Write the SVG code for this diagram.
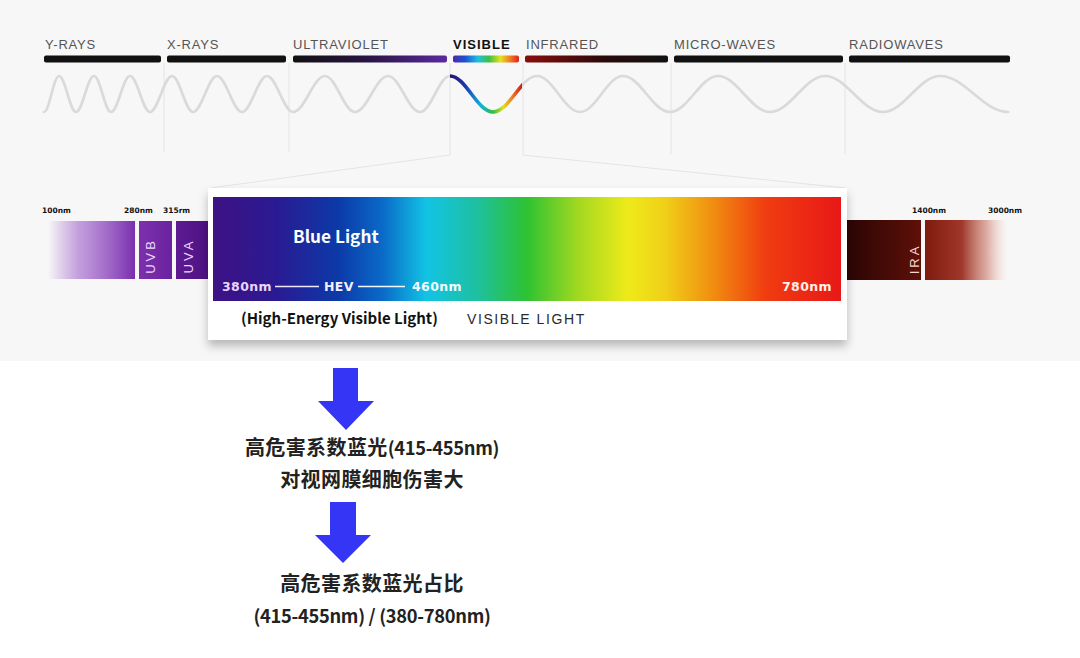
<svg xmlns="http://www.w3.org/2000/svg" width="1080" height="658" viewBox="0 0 1080 658">
  <defs>
    <style>
      .hdr { font-family: "Liberation Sans", Arial, sans-serif; font-size: 13px; letter-spacing: 0.8px; fill: #555; }
      .hdrb { font-family: "Liberation Sans", Arial, sans-serif; font-size: 13px; font-weight: bold; letter-spacing: 1px; fill: #111; }
      .bar { stroke: none; }
      .vline { stroke: #e4e4e4; stroke-width: 1; fill: none; }
      .wave { stroke: #dadada; stroke-width: 2.7; fill: none; stroke-linecap: round; }
      .nm { font-family: "DejaVu Sans", sans-serif; font-size: 7.5px; font-weight: bold; fill: #111; }
      .rot { font-family: "Liberation Sans", Arial, sans-serif; font-size: 13px; letter-spacing: 3px; text-anchor: middle; }
      .band { font-family: "DejaVu Sans", sans-serif; font-size: 12.5px; font-weight: bold; letter-spacing: 0.4px; }
      .cal { font-family: "Noto Sans CJK SC", "Noto Sans", sans-serif; font-weight: bold; }
      .zh { font-family: "Noto Sans CJK SC", "Noto Sans", sans-serif; font-weight: bold; font-size: 20px; fill: #222; text-anchor: middle; letter-spacing: 0.4px; }
      .lat { font-size: 18.3px; letter-spacing: -0.3px; }
      .arrow { fill: #3535f5; }
    </style>
    <linearGradient id="gUVbar" x1="0" y1="0" x2="1" y2="0">
      <stop offset="0" stop-color="#111"/>
      <stop offset="0.5" stop-color="#2a1545"/>
      <stop offset="1" stop-color="#5a2aa0"/>
    </linearGradient>
    <linearGradient id="gVisBar" x1="0" y1="0" x2="1" y2="0">
      <stop offset="0" stop-color="#4a2aa8"/>
      <stop offset="0.18" stop-color="#2050d0"/>
      <stop offset="0.38" stop-color="#20c0e0"/>
      <stop offset="0.55" stop-color="#40c040"/>
      <stop offset="0.72" stop-color="#e8e020"/>
      <stop offset="0.86" stop-color="#f08020"/>
      <stop offset="1" stop-color="#e02020"/>
    </linearGradient>
    <linearGradient id="gIRbar" x1="0" y1="0" x2="1" y2="0">
      <stop offset="0" stop-color="#8a0c0c"/>
      <stop offset="0.55" stop-color="#2a0a0a"/>
      <stop offset="1" stop-color="#111"/>
    </linearGradient>
    <linearGradient id="gVisWave" gradientUnits="userSpaceOnUse" x1="450" y1="0" x2="522" y2="0">
      <stop offset="0" stop-color="#2a1070"/>
      <stop offset="0.22" stop-color="#1a3ab0"/>
      <stop offset="0.42" stop-color="#10b0e0"/>
      <stop offset="0.6" stop-color="#30c040"/>
      <stop offset="0.74" stop-color="#e0e020"/>
      <stop offset="0.86" stop-color="#f08020"/>
      <stop offset="1" stop-color="#d01818"/>
    </linearGradient>
    <linearGradient id="gSpec" x1="0" y1="0" x2="1" y2="0">
      <stop offset="0" stop-color="#3e1284"/>
      <stop offset="0.1" stop-color="#2a1a92"/>
      <stop offset="0.2" stop-color="#0c3aa8"/>
      <stop offset="0.27" stop-color="#0a6ac8"/>
      <stop offset="0.34" stop-color="#12c4e4"/>
      <stop offset="0.42" stop-color="#1ec0a0"/>
      <stop offset="0.5" stop-color="#2ec232"/>
      <stop offset="0.58" stop-color="#a0d820"/>
      <stop offset="0.66" stop-color="#eeea1a"/>
      <stop offset="0.72" stop-color="#f0d018"/>
      <stop offset="0.8" stop-color="#f08a10"/>
      <stop offset="0.88" stop-color="#f03c10"/>
      <stop offset="1" stop-color="#e81818"/>
    </linearGradient>
    <linearGradient id="gUVfade" x1="0" y1="0" x2="1" y2="0">
      <stop offset="0" stop-color="#9a5ac8" stop-opacity="0"/>
      <stop offset="0.35" stop-color="#a064cc" stop-opacity="0.6"/>
      <stop offset="1" stop-color="#7a2eae"/>
    </linearGradient>
    <linearGradient id="gUVB" x1="0" y1="0" x2="1" y2="0">
      <stop offset="0" stop-color="#7e30ac"/>
      <stop offset="1" stop-color="#6a22a0"/>
    </linearGradient>
    <linearGradient id="gUVA" x1="0" y1="0" x2="1" y2="0">
      <stop offset="0" stop-color="#5e1a92"/>
      <stop offset="1" stop-color="#4a1080"/>
    </linearGradient>
    <linearGradient id="gIRA" x1="0" y1="0" x2="1" y2="0">
      <stop offset="0" stop-color="#260404"/>
      <stop offset="1" stop-color="#5e1008"/>
    </linearGradient>
    <linearGradient id="gIRfade" x1="0" y1="0" x2="1" y2="0">
      <stop offset="0" stop-color="#7e1a0e"/>
      <stop offset="0.45" stop-color="#a0382a"/>
      <stop offset="0.75" stop-color="#d08a7c" stop-opacity="0.7"/>
      <stop offset="1" stop-color="#f0c0b0" stop-opacity="0"/>
    </linearGradient>
    <filter id="shadow" x="-5%" y="-10%" width="110%" height="135%">
      <feDropShadow dx="0" dy="6" stdDeviation="5" flood-color="#000" flood-opacity="0.26"/>
    </filter>
    <clipPath id="visClip">
      <rect x="440" y="60" width="82" height="70"/>
    </clipPath>
  </defs>

  <!-- backgrounds -->
  <rect x="0" y="0" width="1080" height="658" fill="#ffffff"/>
  <rect x="0" y="0" width="1080" height="361" fill="#f7f7f7"/>

  <!-- header labels and bars -->
  <g id="header">
    <text class="hdr" x="45" y="49">Y-RAYS</text>
    <text class="hdr" x="167" y="49">X-RAYS</text>
    <text class="hdr" x="293" y="49">ULTRAVIOLET</text>
    <text class="hdrb" x="453" y="49">VISIBLE</text>
    <text class="hdr" x="526" y="49">INFRARED</text>
    <text class="hdr" x="674" y="49">MICRO-WAVES</text>
    <text class="hdr" x="849" y="49">RADIOWAVES</text>
    <rect class="bar" x="44" y="55.5" width="117" height="7" rx="2" fill="#111"/>
    <rect class="bar" x="167" y="55.5" width="119" height="7" rx="2" fill="#111"/>
    <rect class="bar" x="293" y="55.5" width="154" height="7" rx="2" fill="url(#gUVbar)"/>
    <rect class="bar" x="453" y="55.5" width="66" height="7" rx="2" fill="url(#gVisBar)"/>
    <rect class="bar" x="525" y="55.5" width="143" height="7" rx="2" fill="url(#gIRbar)"/>
    <rect class="bar" x="674" y="55.5" width="169" height="7" rx="2" fill="#111"/>
    <rect class="bar" x="849" y="55.5" width="161" height="7" rx="2" fill="#111"/>
  </g>

  <!-- guide lines -->
  <g id="guides">
    <line class="vline" x1="164" y1="63" x2="164" y2="152"/>
    <line class="vline" x1="289" y1="63" x2="289" y2="152"/>
    <line class="vline" x1="450" y1="63" x2="450" y2="155"/>
    <line class="vline" x1="523" y1="63" x2="523" y2="155"/>
    <line class="vline" x1="671" y1="63" x2="671" y2="154"/>
    <line class="vline" x1="845" y1="63" x2="845" y2="154"/>
    <line class="vline" x1="450" y1="155" x2="211" y2="188"/>
    <line class="vline" x1="523" y1="155" x2="846" y2="188"/>
  </g>

  <!-- waves -->
  <g id="waves">
    <path class="wave" d="M44,112 C49.5,112 53.5,76 59,76 C65.2,76 69.8,112 76,112 C82.6,112 87.4,76 94,76 C100.2,76 104.8,112 111,112 C117.9,112 123.1,76 130,76 C137.3,76 142.7,112 150,112 C158,112 164,76 172,76 C179.6,76 185.4,112 193,112 C201.7,112 208.3,76 217,76 C226.1,76 232.9,112 242,112 C251.1,112 257.9,76 267,76 C276.5,76 283.5,112 293,112 C304.7,112 313.3,76 325,76 C335.9,76 344.1,112 355,112 C367,112 376,76 388,76 C399.7,76 408.3,112 420,112 C430.9,112 439.1,76 450,76"/>
    <path class="wave" d="M493,112 C509,112 521,76 537,76 C552.7,76 564.3,112 580,112 C595.7,112 607.3,76 623,76 C640.1,76 652.9,112 670,112 C687.5,112 700.5,76 718,76 C736.9,76 751.1,112 770,112 C790,112 805,76 825,76 C846.1,76 861.9,112 883,112 C903.8,112 919.2,76 940,76 C964.8,76 983.2,112 1008,112"/>
    <path d="M450,76 C465.7,76 477.3,112 493,112 C509,112 521,76 537,76" fill="none" stroke="url(#gVisWave)" stroke-width="3.6" clip-path="url(#visClip)"/>
  </g>

  <!-- UV side -->
  <g id="uv">
    <text class="nm" x="42" y="213">100nm</text>
    <text class="nm" x="124" y="213">280nm</text>
    <text class="nm" x="163" y="213">315rm</text>
    <rect x="48" y="221" width="87" height="58" fill="url(#gUVfade)"/>
    <rect x="139" y="221" width="33" height="58" fill="url(#gUVB)"/>
    <rect x="176" y="221" width="40" height="58" fill="url(#gUVA)"/>
    <text class="rot" fill="#ead8fa" transform="translate(155,256) rotate(-90)">UVB</text>
    <text class="rot" fill="#ead8fa" transform="translate(193,256) rotate(-90)">UVA</text>
  </g>

  <!-- IR side -->
  <g id="ir">
    <text class="nm" x="912" y="213">1400nm</text>
    <text class="nm" x="988" y="213">3000nm</text>
    <rect x="840" y="220" width="81" height="60" fill="url(#gIRA)"/>
    <rect x="925" y="220" width="82" height="60" fill="url(#gIRfade)"/>
    <text class="rot" fill="#f2d6d2" transform="translate(919,259) rotate(-90)">IRA</text>
  </g>

  <!-- visible spectrum card -->
  <g id="spectrum-card">
    <rect x="208" y="188" width="639" height="152" fill="#ffffff" filter="url(#shadow)"/>
    <rect x="213" y="197" width="628" height="104" fill="url(#gSpec)"/>
    <text class="cal" x="293" y="243" font-size="17.2" fill="#ffffff">Blue Light</text>
    <text class="band" x="222" y="291" fill="#e8d6ff">380nm</text>
    <line x1="275" y1="286.5" x2="319" y2="286.5" stroke="#f0e8ff" stroke-width="1.4"/>
    <text class="band" x="324" y="291" fill="#f4f0ff">HEV</text>
    <line x1="358" y1="286.5" x2="405" y2="286.5" stroke="#f4f8ff" stroke-width="1.4"/>
    <text class="band" x="412" y="291" fill="#f2fbff">460nm</text>
    <text class="band" x="782" y="291" fill="#fff0ea">780nm</text>
    <text class="cal" x="241" y="324" font-size="15" fill="#111">(High-Energy Visible Light)</text>
    <text x="467" y="323.5" font-family="Liberation Sans, Arial, sans-serif" font-size="14" letter-spacing="1.6" fill="#2a2a2a">VISIBLE LIGHT</text>
  </g>

  <!-- connectors -->
  <g id="connectors">
    <path class="arrow" d="M333,368 H358 V401 H374 L346,430 L318,401 H333 Z"/>
    <path class="arrow" d="M330,502 H356 V535 H371 L343,563 L315,535 H330 Z"/>
  </g>

  <g id="node-step1">
    <text class="zh" x="372" y="455">高危害系数蓝光<tspan class="lat">(415-455nm)</tspan></text>
    <text class="zh" x="372" y="487">对视网膜细胞伤害大</text>
  </g>
  <g id="node-step2">
    <text class="zh" x="372" y="591">高危害系数蓝光占比</text>
    <text class="zh" x="372" y="623"><tspan class="lat">(415-455nm) / (380-780nm)</tspan></text>
  </g>
</svg>
